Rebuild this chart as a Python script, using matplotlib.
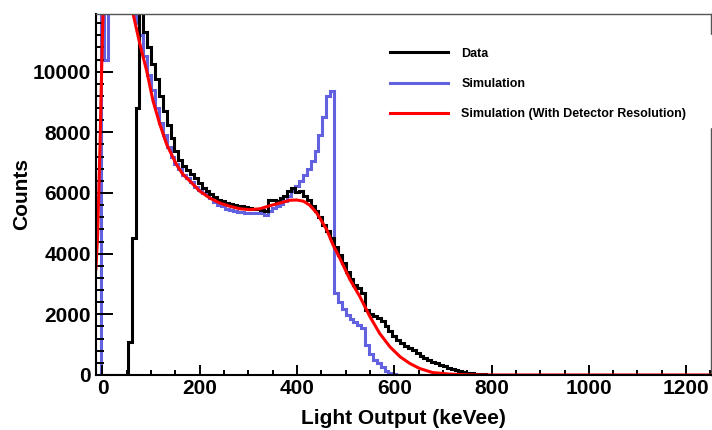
import numpy as np
import matplotlib
matplotlib.use("Agg")
from matplotlib import pylab as plt
from matplotlib.lines import Line2D
from matplotlib.patches import Rectangle
from matplotlib.ticker import MultipleLocator

plt.rcParams['font.family'] = ['Liberation Sans', 'DejaVu Sans']
plt.rcParams['font.weight'] = 'bold'

# histograms: 8 keVee bins, first bin centred at 0
bin_w = 8

data_counts = [0, 0, 0, 0, 0, 0, 0,
               1100, 4500, 8800, 13000, 11300, 10800, 10250, 9750, 9200, 8700,
               8250, 7800, 7400, 7100, 6900, 6750, 6620, 6480, 6320, 6180,
               6070, 5960, 5860, 5760, 5720, 5680, 5630, 5600, 5580, 5560,
               5530, 5500, 5480, 5460, 5440, 5420, 5780, 5760, 5740, 5850,
               5900, 6050, 6180, 6030, 6080, 5900, 5780, 5580, 5400, 5200,
               4950, 4760, 4500, 4230, 3950, 3700, 3400, 3150, 2980, 2860,
               2700, 2150, 2020, 1950, 1880, 1770, 1600, 1450, 1300, 1170,
               1060, 970, 890, 810, 720, 640, 570, 505, 445, 390,
               335, 285, 235, 190, 150, 120, 95, 72, 55, 40,
               30, 22, 15, 10, 7, 5, 3, 2, 1] + [0] * 51

sim_counts = [40000, 10400, 20000, 20000, 20000, 20000, 20000, 20000, 15000,
              11600, 11200, 10500, 9900, 9400, 8800, 8300, 7900, 7500, 7200,
              6950, 6800, 6600, 6480, 6350, 6200, 6100, 6000, 5920, 5850,
              5700, 5620, 5560, 5480, 5440, 5400, 5380, 5360, 5350, 5340,
              5350, 5340, 5330, 5280, 5420, 5500, 5560, 5650, 5750, 5900,
              6060, 6220, 6400, 6600, 6800, 7050, 7400, 7900, 8500, 9200,
              9350, 2700, 2420, 2180, 1980, 1860, 1740, 1640, 1560, 980,
              680, 500, 380, 260, 140, 65, 25, 8] + [0] * 80

# smeared simulation (smooth curve)
res_kev = [-13.5, -10, -5, -1, 2, 5, 30, 55, 63, 77, 91, 104, 118, 132, 152, 165,
           180, 200, 221, 241, 262, 282, 303, 324, 344, 365, 385, 399, 413, 426,
           440, 447, 461, 474, 488, 509, 529, 550, 570, 591, 612, 632, 652, 679,
           714, 750, 800, 1252]
res_counts = [3500, 4600, 7600, 10600, 12500, 15000, 20000, 14000, 11900, 10900,
              10020, 9030, 8260, 7600, 6940, 6620, 6390, 6060, 5830, 5670, 5560,
              5480, 5450, 5480, 5580, 5670, 5760, 5770, 5730, 5600, 5350, 5170,
              4790, 4290, 3850, 3140, 2590, 1920, 1370, 930, 600, 380, 215, 80,
              30, 8, 0, 0]

c_data = 'black'
c_sim = '#6262e0'
c_res = '#ff0000'

fig = plt.figure(figsize=(7.12, 4.30), dpi=100)
ax = fig.add_axes([96.4/712, 55/430, 615/712, 361/430])

edges_sim = np.arange(len(sim_counts)+1)*bin_w - bin_w/2
edges_data = np.arange(len(data_counts)+1)*bin_w - bin_w/2
ax.stairs(sim_counts, edges_sim, color=c_sim, lw=2.2)
ax.stairs(data_counts, edges_data, color=c_data, lw=2.2)
ax.plot(res_kev, res_counts, color=c_res, lw=2.2)

ax.set_xlim(-12.5, 1252)
ax.set_ylim(0, 11900)

ax.xaxis.set_major_locator(MultipleLocator(200))
ax.xaxis.set_minor_locator(MultipleLocator(50))
ax.yaxis.set_major_locator(MultipleLocator(2000))
ax.yaxis.set_minor_locator(MultipleLocator(400))
ax.tick_params(axis='x', which='major', direction='in', length=7.2, width=1.4, labelsize=15, pad=3)
ax.tick_params(axis='x', which='minor', direction='in', length=3.6, width=1.4)
ax.tick_params(axis='y', which='major', direction='in', length=12, width=1.4, labelsize=15, pad=4)
ax.tick_params(axis='y', which='minor', direction='in', length=5.5, width=1.4)
for lab in ax.get_xticklabels()+ax.get_yticklabels():
    lab.set_fontweight('bold')

for s in ['left', 'bottom']:
    ax.spines[s].set_linewidth(1.5)
    ax.spines[s].set_color('black')
for s in ['top', 'right']:
    ax.spines[s].set_linewidth(1.0)
    ax.spines[s].set_color('#555555')

ax.set_xlabel('Light Output (keVee)', fontsize=15, fontweight='bold', labelpad=8)
ax.set_ylabel('Counts', fontsize=15, fontweight='bold', labelpad=1)

handles = [Line2D([], [], color=c_data, lw=2.2),
           Line2D([], [], color=c_sim, lw=2.2),
           Line2D([], [], color=c_res, lw=2.2)]
labels = ['Data', 'Simulation', 'Simulation (With Detector Resolution)']
leg = fig.legend(handles, labels, loc='upper left', bbox_to_anchor=(384/712, 1-41.5/430),
                 frameon=False, borderpad=0, handlelength=4.64, handletextpad=1.04,
                 labelspacing=1.47, prop={'size': 9, 'weight': 'bold'})

# legend pad covers the right frame
fig.add_artist(Rectangle((704/712, (430-127)/430), 10/712, 92/430,
                         transform=fig.transFigure, color='white', zorder=1))

fig.savefig('out.png', dpi=100)
